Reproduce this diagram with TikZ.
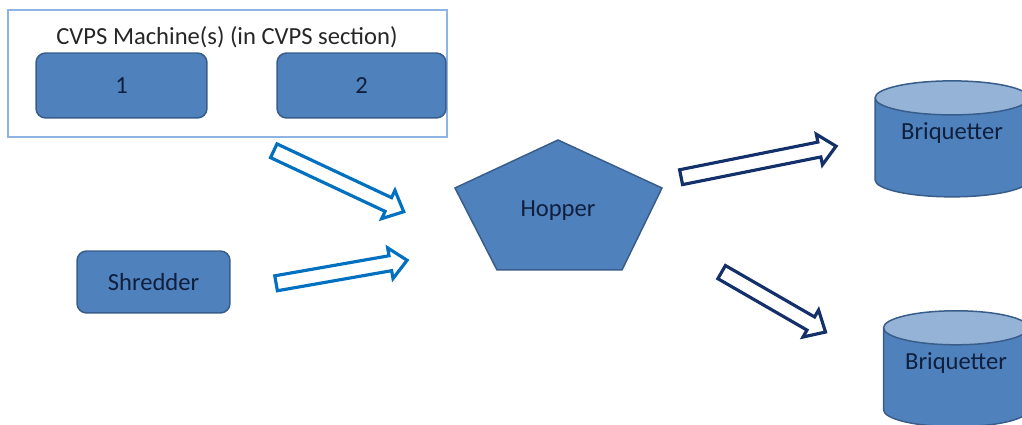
\documentclass[tikz,border=0pt]{standalone}
\usepackage{fontspec}
\setmainfont{Carlito}
\usetikzlibrary{shapes.geometric,shapes.arrows,calc}

\definecolor{boxfill}{HTML}{4F81BD}
\definecolor{boxline}{HTML}{385D8A}
\definecolor{toplight}{HTML}{95B3D7}
\definecolor{labeltext}{HTML}{0F1F3D}
\definecolor{inblue}{HTML}{0070C0}
\definecolor{outnavy}{HTML}{13306B}
\definecolor{framecol}{HTML}{8EB4E3}

\tikzset{
    machine/.style={draw=boxline, fill=boxfill, rounded corners=5.5pt, line width=0.85pt,
        text=labeltext, font=\fontsize{14}{16}\selectfont},
    drum/.style={cylinder, shape border rotate=90, aspect=0.3, draw=boxline, line width=0.85pt,
        cylinder uses custom fill, cylinder body fill=boxfill, cylinder end fill=toplight,
        text=labeltext, font=\fontsize{14}{16}\selectfont, text depth=0.78cm},
    hollow/.style={single arrow, draw=#1, fill=white, line width=1.8pt, inner xsep=0pt,
        inner ysep=0.12cm, single arrow head extend=0.16cm, single arrow tip angle=85,
        sloped, anchor=center}
}

% block arrow from #2 to #3 in colour #1
\newcommand{\blockarrow}[3]{%
    \path let \p1=($(#3)-(#2)$), \n1={veclen(\x1,\y1)} in
        (#2) -- (#3) node[midway, hollow=#1, minimum height=\n1] {};
}

\begin{document}
\begin{tikzpicture}[x=0.02cm,y=-0.02cm]
\clip (0,0) rectangle (1022,425);

% CVPS section
\node[draw=framecol, line width=0.85pt, minimum width=8.78cm, minimum height=2.54cm] (cvps) at (227.5,73.5) {};
\node[text=black!85, font=\fontsize{14}{16}\selectfont] (cvpstitle) at (227,37) {CVPS Machine(s) (in CVPS section)};
\node[machine, minimum width=3.42cm, minimum height=1.3cm] (m1) at (121.5,85.5) {1};
\node[machine, minimum width=3.38cm, minimum height=1.3cm] (m2) at (361.5,85.5) {2};

\node[machine, minimum width=3.06cm, minimum height=1.24cm] (shredder) at (153.5,282) {Shredder};

% hopper
\filldraw[draw=boxline, fill=boxfill, line width=0.85pt]
    (558,140) -- (662,188) -- (622,270) -- (497,270) -- (455,188) -- cycle;
\node[text=labeltext, font=\fontsize{14}{16}\selectfont] (hopper) at (558,211) {Hopper};

% briquetters
\node[drum, minimum width=3.08cm, minimum height=2.32cm] (briq1) at (952,151) {Briquetter};
\node[drum, minimum width=2.9cm, minimum height=2.32cm] (briq2) at (956,381) {Briquetter};

% arrows
\coordinate (in1s) at (270,149);
\coordinate (in1e) at (400,210);
\coordinate (in2s) at (272,284);
\coordinate (in2e) at (403,261);
\coordinate (out1s) at (677,178);
\coordinate (out1e) at (832,147);
\coordinate (out2s) at (718,270);
\coordinate (out2e) at (822,330);

\blockarrow{inblue}{in1s}{in1e}
\blockarrow{inblue}{in2s}{in2e}
\blockarrow{outnavy}{out1s}{out1e}
\blockarrow{outnavy}{out2s}{out2e}
\end{tikzpicture}
\end{document}
